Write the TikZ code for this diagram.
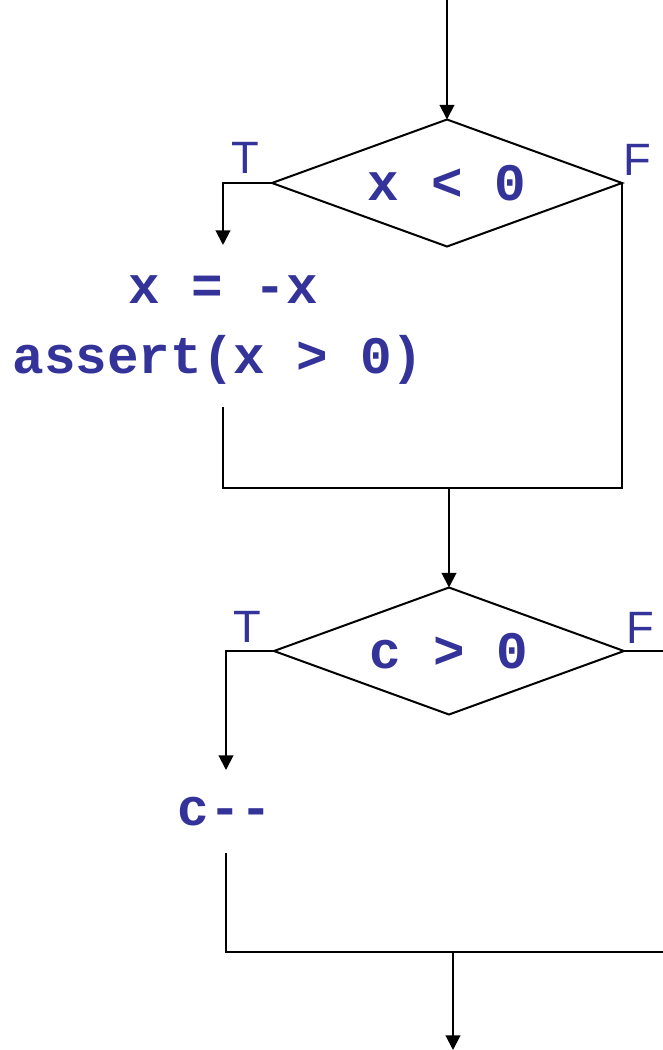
\documentclass[tikz,border=0pt]{standalone}
\usepackage{fontspec}
\setmainfont{Liberation Sans}
\setmonofont{Liberation Mono}
\usetikzlibrary{shapes.geometric,arrows.meta}
\definecolor{kodmavi}{HTML}{333399}
\begin{document}
\begin{tikzpicture}[x=0.75pt, y=-0.75pt, line width=1.5pt,
  karar/.style={draw, diamond, aspect=2.76, inner sep=0pt, outer sep=0pt,
    minimum width=262.5pt, minimum height=95.25pt,
    text=kodmavi, font=\fontsize{39.5}{41}\ttfamily\bfseries},
  kod/.style={text=kodmavi, anchor=base, inner sep=0pt,
    font=\fontsize{39.5}{41}\ttfamily\bfseries},
  etiket/.style={text=kodmavi, anchor=base, inner sep=0pt,
    font=\fontsize{34}{36}\selectfont},
  ok/.style={-{Triangle[length=11pt,width=11pt]}}]
  \useasboundingbox (0,0) rectangle (663,1050);

  % --- ilk karar: x < 0 ---
  \coordinate (giris) at (447,0);
  \node[karar] (kosul1) at (447,183) {x < 0};
  \node[etiket] (t1) at (245,173) {T};
  \node[etiket] (f1) at (637,175) {F};
  \draw[ok] (giris) -- (kosul1.north);

  \coordinate (t1ucu) at (223,245);
  \draw[ok] (kosul1.west) -| (t1ucu);
  \node[kod] (atama) at (223,303) {x = -x};
  \node[kod] (iddia) at (218,373) {assert(x > 0)};
  \coordinate (iddiaalt) at (223,407);

  % --- birlesme ---
  \coordinate (birlesim1) at (449,488);
  \draw (iddiaalt) |- (birlesim1);
  \draw (kosul1.east) |- (birlesim1);

  % --- ikinci karar: c > 0 ---
  \node[karar] (kosul2) at (449,651) {c > 0};
  \node[etiket] (t2) at (247,642) {T};
  \node[etiket] (f2) at (640,643) {F};
  \draw[ok] (birlesim1) -- (kosul2.north);

  \coordinate (t2ucu) at (226,770);
  \draw[ok] (kosul2.west) -| (t2ucu);
  \node[kod] (azalt) at (225,825) {c--};
  \coordinate (azaltalt) at (226,853);

  % --- son birlesme ---
  \coordinate (birlesim2) at (453,952);
  \coordinate (sagkose) at (668,952);
  \draw (azaltalt) |- (birlesim2) -- (sagkose);
  \draw (kosul2.east) -| (sagkose);
  \coordinate (cikis) at (453,1050);
  \draw[ok] (birlesim2) -- (cikis);
\end{tikzpicture}
\end{document}
